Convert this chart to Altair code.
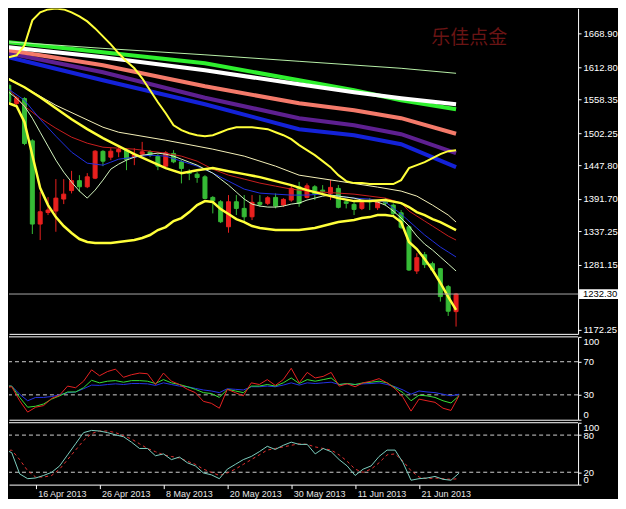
import altair as alt
import pandas as pd

# ---------------- data ----------------
bar_index = list(range(58))  # trading days 10 Apr 2013 ... 28 Jun 2013
opens = [1582.3, 1551.7, 1560.0, 1489.1, 1349.6, 1368.9, 1371.4, 1391.5, 1405.7, 1422.4,
         1412.1, 1426.6, 1471.5, 1461.8, 1470.7, 1473.5, 1462.3, 1466.8, 1470.7, 1463.0,
         1446.7, 1468.0, 1453.9, 1437.2, 1433.3, 1428.8, 1394.3, 1387.0, 1345.1, 1387.0,
         1375.9, 1361.8, 1386.0, 1384.3, 1394.3, 1381.4, 1389.8, 1412.1, 1394.3, 1412.1,
         1406.5, 1401.0, 1409.4, 1387.0, 1382.6, 1375.9, 1389.0, 1376.9, 1387.0, 1381.4,
         1368.5, 1345.1, 1270.9, 1298.2, 1283.2, 1274.8, 1244.7, 1202.8]
highs = [1585.7, 1563.9, 1562.2, 1491.9, 1403.7, 1394.8, 1425.0, 1425.0, 1438.8, 1431.6,
         1435.0, 1473.5, 1473.5, 1476.8, 1480.2, 1476.8, 1476.8, 1487.4, 1473.5, 1466.8,
         1471.8, 1473.5, 1456.8, 1441.7, 1436.7, 1431.6, 1396.5, 1389.8, 1398.2, 1398.2,
         1398.2, 1398.2, 1398.2, 1396.5, 1401.0, 1393.1, 1414.9, 1420.4, 1417.8, 1414.9,
         1414.9, 1423.3, 1414.9, 1389.8, 1387.0, 1389.8, 1393.1, 1389.8, 1393.1, 1384.3,
         1373.1, 1347.9, 1300.6, 1302.8, 1286.5, 1276.0, 1247.5, 1234.1]
lows = [1552.2, 1548.8, 1481.9, 1332.9, 1322.8, 1364.7, 1336.7, 1383.1, 1401.0, 1403.2,
        1409.9, 1425.0, 1446.7, 1456.8, 1461.8, 1440.0, 1448.4, 1463.5, 1461.8, 1440.0,
        1445.0, 1451.7, 1417.8, 1423.3, 1418.8, 1391.5, 1367.5, 1351.3, 1335.1, 1364.7,
        1351.3, 1356.3, 1378.6, 1381.4, 1375.9, 1378.1, 1387.0, 1378.6, 1392.6, 1389.8,
        1398.2, 1389.8, 1375.9, 1375.9, 1364.7, 1373.1, 1373.1, 1373.1, 1379.8, 1361.8,
        1341.3, 1270.9, 1265.9, 1276.0, 1269.3, 1219.6, 1195.6, 1177.7]
closes = [1554.4, 1561.1, 1484.7, 1349.6, 1370.2, 1373.1, 1393.1, 1399.8, 1422.4, 1412.1,
          1428.8, 1471.8, 1455.1, 1471.8, 1474.7, 1457.9, 1466.3, 1470.7, 1465.1, 1446.7,
          1469.0, 1453.9, 1442.9, 1434.5, 1427.8, 1392.6, 1388.6, 1353.5, 1387.0, 1375.9,
          1361.8, 1386.0, 1382.6, 1393.7, 1379.8, 1391.0, 1409.4, 1384.3, 1413.7, 1399.8,
          1404.0, 1411.1, 1377.6, 1384.3, 1374.2, 1385.6, 1387.0, 1387.0, 1384.3, 1367.5,
          1344.1, 1272.6, 1293.2, 1281.5, 1272.6, 1228.0, 1203.5, 1232.3]

# Bollinger bands
bb_upper = [1629.2, 1632.5, 1649.3, 1691.1, 1704.5, 1709.5, 1711.2, 1709.5, 1704.5, 1697.8,
            1689.4, 1677.7, 1664.3, 1650.9, 1635.9, 1622.5, 1610.8, 1594.0, 1573.9, 1553.9,
            1535.4, 1515.3, 1507.0, 1502.0, 1498.6, 1496.9, 1498.6, 1503.6, 1508.7, 1512.0,
            1512.0, 1512.0, 1510.3, 1508.7, 1503.6, 1498.6, 1491.9, 1481.9, 1473.5, 1465.1,
            1455.1, 1445.0, 1431.6, 1421.6, 1418.3, 1418.3, 1416.6, 1416.6, 1416.6, 1416.6,
            1423.3, 1443.4, 1448.4, 1453.4, 1460.1, 1466.8, 1471.8, 1473.5]
bb_lower = [1552.2, 1547.2, 1520.4, 1465.1, 1409.9, 1381.4, 1361.3, 1346.3, 1334.6, 1324.5,
            1319.5, 1317.8, 1317.8, 1317.8, 1319.5, 1321.2, 1322.8, 1326.2, 1331.2, 1339.6,
            1344.6, 1354.6, 1359.7, 1369.7, 1381.4, 1388.1, 1386.5, 1374.7, 1366.4, 1358.0,
            1353.0, 1346.3, 1342.9, 1341.3, 1339.6, 1339.6, 1339.6, 1339.6, 1341.3, 1342.9,
            1346.3, 1349.6, 1353.0, 1354.6, 1356.3, 1359.7, 1361.3, 1364.7, 1364.7, 1363.0,
            1353.0, 1319.5, 1307.8, 1291.0, 1272.6, 1250.9, 1227.4, 1205.7]
bb_mid_k = [0, 2, 4, 6, 8, 10, 12, 14, 16, 18, 20, 22, 24, 26, 28, 30, 32, 34, 36, 38, 40,
            42, 44, 46, 48, 50, 51, 52, 53, 54, 55, 56, 57]
bb_mid = [1592.4, 1579.0, 1562.2, 1543.8, 1525.4, 1508.7, 1493.6, 1480.2, 1466.8, 1455.1,
          1443.4, 1435.0, 1440.0, 1443.4, 1438.3, 1433.3, 1428.3, 1421.6, 1414.9, 1406.5,
          1399.8, 1393.1, 1388.1, 1388.1, 1389.8, 1384.8, 1378.1, 1369.7, 1364.7, 1358.0,
          1353.0, 1346.3, 1339.6]

# short moving averages (thin lines)
ma_red_k = bb_mid_k
ma_red = [1575.6, 1547.2, 1527.1, 1510.3, 1495.3, 1485.2, 1478.5, 1476.8, 1475.2, 1471.8,
          1468.5, 1463.5, 1455.1, 1441.7, 1431.6, 1425.0, 1418.3, 1413.2, 1408.2, 1404.9,
          1403.2, 1401.5, 1399.8, 1396.5, 1393.1, 1384.8, 1371.4, 1363.0, 1354.6, 1346.3,
          1337.9, 1329.5, 1322.8]
ma_blue_k = [0, 2, 4, 6, 8, 10, 12, 13, 14, 16, 18, 20, 22, 24, 26, 28, 30, 32, 34, 36, 38,
             40, 42, 44, 46, 48, 49, 50, 51, 52, 53, 54, 55, 56, 57]
ma_blue = [1575.6, 1557.2, 1525.4, 1496.9, 1470.2, 1451.7, 1448.4, 1453.4, 1458.4, 1461.8,
           1465.1, 1463.5, 1455.1, 1446.7, 1435.0, 1421.6, 1408.2, 1401.5, 1399.8, 1398.2,
           1398.2, 1399.8, 1396.5, 1393.1, 1391.5, 1386.5, 1376.4, 1366.4, 1354.6, 1342.9,
           1331.2, 1321.2, 1311.1, 1302.8, 1294.4]
ma_pale = [1570.6, 1560.5, 1547.2, 1527.1, 1503.6, 1480.2, 1456.8, 1436.7, 1419.9, 1404.9,
           1393.1, 1406.5, 1423.3, 1441.7, 1450.1, 1456.8, 1461.8, 1465.1, 1466.8, 1468.5,
           1466.8, 1463.5, 1458.4, 1453.4, 1448.4, 1441.7, 1435.0, 1425.0, 1414.9, 1403.2,
           1391.5, 1383.1, 1379.8, 1378.1, 1378.1, 1379.8, 1383.1, 1384.8, 1389.8, 1393.1,
           1396.5, 1398.2, 1396.5, 1394.8, 1393.1, 1389.8, 1388.1, 1386.5, 1381.4, 1371.4,
           1359.7, 1346.3, 1329.5, 1316.1, 1306.1, 1294.4, 1282.7, 1270.9]
ma_cream_k = [0, 6, 12, 14, 20, 26, 30, 34, 37, 42, 47, 50, 52, 54, 56, 57]
ma_cream = [1594.0, 1548.8, 1512.0, 1503.6, 1490.2, 1475.2, 1463.5, 1446.7, 1431.6, 1421.6,
            1411.6, 1404.9, 1396.5, 1381.4, 1364.7, 1353.0]

# long moving averages (thick lines)
long_k = [0, 12, 25, 37, 44, 50, 57]
ma_green = [1654.3, 1637.6, 1619.1, 1590.7, 1573.9, 1557.2, 1542.1]
ma_white = [1645.9, 1629.2, 1607.4, 1584.0, 1570.6, 1560.5, 1550.5]
ma_salmon = [1640.9, 1615.8, 1580.6, 1552.2, 1540.5, 1527.1, 1501.1]
ma_purple = [1635.9, 1604.1, 1561.4, 1527.1, 1515.3, 1500.3, 1468.5]
ma_navy = [1629.2, 1590.7, 1550.5, 1508.7, 1498.6, 1483.5, 1445.0]
top_k = [0, 12, 25, 37, 50, 57]
ma_top = [1655.1, 1644.2, 1633.4, 1622.5, 1610.8, 1602.4]

# RSI (three periods)
rsi_fast = [38.6, 39.8, 22.9, 9.2, 15.1, 17.1, 25.7, 29.6, 40.6, 38.6,
            46.5, 60.2, 53.1, 58.2, 61.0, 51.2, 54.3, 56.3, 55.5, 42.5,
            56.3, 46.5, 42.5, 36.7, 32.7, 22.2, 19.8, 13.9, 36.7, 32.7,
            28.8, 44.5, 42.5, 48.4, 41.4, 48.4, 62.1, 44.5, 57.1, 50.4,
            52.3, 57.1, 40.6, 43.3, 39.8, 44.5, 46.5, 49.6, 44.5, 37.4,
            26.9, 10.4, 24.9, 22.9, 21.0, 13.9, 11.2, 28.8]
rsi_mid = [40.6, 40.6, 26.9, 15.1, 16.3, 19.0, 24.9, 28.8, 33.5, 33.5,
           38.6, 47.6, 44.5, 46.5, 47.2, 45.3, 47.2, 47.2, 46.5, 43.7,
           48.4, 44.5, 42.5, 39.8, 36.7, 32.7, 31.6, 26.9, 36.7, 34.7,
           32.7, 40.6, 40.6, 42.5, 40.6, 44.5, 50.4, 43.7, 48.4, 46.5,
           48.4, 50.4, 42.5, 43.7, 42.5, 44.5, 45.3, 46.5, 44.5, 38.6,
           32.7, 22.9, 29.6, 28.8, 26.9, 22.9, 20.2, 28.8]
rsi_slow = [40.6, 40.6, 30.8, 22.9, 26.9, 26.9, 28.0, 30.0, 32.7, 33.5,
            37.4, 41.8, 41.4, 42.5, 43.3, 42.5, 43.7, 43.7, 43.3, 41.4,
            44.5, 42.5, 40.6, 39.8, 37.8, 35.9, 34.7, 32.7, 37.4, 36.7,
            35.9, 39.8, 39.8, 40.6, 39.8, 41.8, 44.5, 41.8, 44.5, 43.7,
            44.5, 45.3, 42.5, 43.3, 42.5, 43.3, 43.7, 44.5, 42.5, 39.8,
            35.9, 30.8, 34.7, 33.5, 32.7, 30.8, 28.8, 30.8]
rsi_levels = [30, 70]

# Stochastic
stoch_k = [57.3, 51.7, 17.3, 9.6, 10.7, 14.8, 19.9, 30.2, 48.1, 66.0,
           84.0, 87.6, 86.6, 84.0, 80.4, 77.3, 68.6, 58.4, 58.4, 46.6,
           49.6, 40.4, 44.5, 35.3, 30.2, 18.9, 15.8, 9.6, 25.0, 32.7,
           40.4, 45.5, 53.2, 61.9, 56.8, 63.5, 68.6, 65.0, 65.0, 49.6,
           58.4, 53.2, 40.4, 30.2, 14.8, 25.0, 30.2, 45.5, 55.8, 55.8,
           35.3, 7.1, 9.6, 10.7, 13.2, 8.6, 7.1, 18.4]
stoch_d = [54.3, 55.8, 40.4, 22.5, 12.2, 12.2, 14.8, 25.0, 40.4, 55.8,
           71.2, 82.5, 86.6, 86.6, 84.0, 78.9, 73.7, 66.0, 58.4, 53.2,
           48.1, 45.5, 43.0, 37.8, 32.7, 25.0, 19.9, 14.8, 18.9, 25.0,
           32.7, 40.4, 48.1, 55.8, 58.4, 60.9, 63.5, 66.0, 65.0, 60.9,
           58.4, 55.8, 48.1, 37.8, 25.0, 19.9, 25.0, 35.3, 48.1, 49.6,
           37.8, 22.5, 12.2, 9.6, 10.7, 9.6, 8.6, 9.6]
stoch_levels = [20, 80]

# axes text
date_tick_bars = [4, 12, 20, 28, 36, 44, 52]
date_tick_text = ["16 Apr 2013", "26 Apr 2013", "8 May 2013", "20 May 2013",
                  "30 May 2013", "11 Jun 2013", "21 Jun 2013"]
price_ticks = [1172.25, 1281.15, 1337.25, 1391.70, 1447.80, 1502.25, 1558.35, 1612.80, 1668.90]
last_price = [1232.30]
watermark = ["乐佳点金"]

# ---------------- chart ----------------
FONT = "Liberation Sans"
W = 570
XS = alt.Scale(domain=[0.6625, 0.6625 + W / 8.0], nice=False, zero=False)
YS_MAIN = alt.Scale(domain=[1165.5, 1711.2], nice=False, zero=False)
YS_IND = alt.Scale(domain=[0, 100], nice=False, zero=False)

border_x_axis = alt.Axis(labels=False, ticks=False, domain=True, domainColor="white",
                         domainWidth=1, grid=False, title=None)


def right_axis(values, flush):
    return alt.Axis(orient="right", values=values, grid=False, title=None,
                    domainColor="white", tickColor="white", tickSize=3, labelPadding=2,
                    labelColor="white", labelFont=FONT, labelFontSize=9.5,
                    labelFlush=flush, labelOverlap=False,
                    format=".2f" if not flush else "d")


main_axis = right_axis(price_ticks, False)


def sdf(ks, vs):
    return pd.DataFrame({"k": ks, "v": vs})


def line(ks, vs, color, width, dash=None, xaxis=None, yscale=YS_MAIN, yaxis=None):
    kw = dict(color=color, strokeWidth=width, clip=True)
    if dash:
        kw["strokeDash"] = dash
    return alt.Chart(sdf(ks, vs)).mark_line(**kw).encode(
        x=alt.X("k:Q", scale=XS, axis=xaxis, title=None),
        y=alt.Y("v:Q", scale=yscale, axis=yaxis, title=None),
    )


bars = pd.DataFrame({"k": bar_index, "open": opens, "high": highs,
                     "low": lows, "close": closes})
bars["dir"] = ["up" if c >= o else "down" for o, c in zip(opens, closes)]
RED, GREEN = "#e8201e", "#36bb36"
cscale = alt.Scale(domain=["up", "down"], range=[RED, GREEN])

xm = alt.X("k:Q", scale=XS, axis=border_x_axis, title=None)
wicks = alt.Chart(bars).mark_rule(strokeWidth=1, clip=True).encode(
    x=xm,
    y=alt.Y("low:Q", scale=YS_MAIN, axis=main_axis, title=None),
    y2="high:Q",
    color=alt.Color("dir:N", scale=cscale, legend=None),
)
bodies = alt.Chart(bars).mark_bar(size=4, strokeWidth=1, clip=True).encode(
    x=xm,
    y=alt.Y("open:Q", scale=YS_MAIN, axis=main_axis, title=None),
    y2="close:Q",
    color=alt.Color("dir:N", scale=cscale, legend=None),
    stroke=alt.Stroke("dir:N", scale=cscale, legend=None),
)


def mline(ks, vs, color, width):
    return line(ks, vs, color, width, xaxis=border_x_axis, yaxis=main_axis)


BOX_W = 610 - W - 1
price_df = pd.DataFrame({"v": last_price, "t": ["%.2f" % p for p in last_price]})
price_rule = alt.Chart(price_df).mark_rule(color="#a8a8a8", strokeWidth=1).encode(
    y=alt.Y("v:Q", scale=YS_MAIN, axis=main_axis, title=None))
price_box = alt.Chart(price_df).mark_point(
    shape="M-1,-0.25H1V0.25H-1Z", size=BOX_W * BOX_W, filled=True, color="white",
    opacity=1, strokeWidth=0).encode(
    x=alt.value(W + 1 + BOX_W / 2.0),
    y=alt.Y("v:Q", scale=YS_MAIN, axis=main_axis, title=None))
price_text = alt.Chart(price_df).mark_text(
    align="left", baseline="middle", font=FONT, fontSize=9.5, color="black").encode(
    x=alt.value(W + 5), y=alt.Y("v:Q", scale=YS_MAIN, axis=main_axis, title=None),
    text="t:N")

wm = alt.Chart(pd.DataFrame({"t": watermark})).mark_text(
    font="Noto Sans CJK SC", fontSize=19, color="#6a1414", align="center",
    baseline="middle").encode(x=alt.value(461), y=alt.value(30), text="t:N")

main = alt.layer(
    wm,
    wicks, bodies,
    mline(long_k, ma_navy, "#1422d8", 4),
    mline(long_k, ma_purple, "#5e2090", 4),
    mline(long_k, ma_salmon, "#f47a6a", 4),
    mline(long_k, ma_green, "#2ef02e", 4),
    mline(long_k, ma_white, "#ffffff", 4),
    mline(top_k, ma_top, "#b8f0a8", 1),
    mline(ma_cream_k, ma_cream, "#f4f0b8", 1),
    mline(ma_red_k, ma_red, "#c81e1e", 1),
    mline(ma_blue_k, ma_blue, "#2030e0", 1),
    mline(bar_index, ma_pale, "#d4f4c0", 1),
    mline(bar_index, bb_upper, "#ffff3a", 2),
    mline(bb_mid_k, bb_mid, "#ffff3a", 2.5),
    mline(bar_index, bb_lower, "#ffff3a", 2.5),
    price_rule, price_box, price_text,
).properties(width=W, height=326)

# ---- RSI panel ----
rsi_axis = right_axis([0, 30, 70, 100], True)


def iline(ks, vs, color, width, dash=None, xaxis=border_x_axis, yaxis=rsi_axis):
    return line(ks, vs, color, width, dash=dash, xaxis=xaxis, yscale=YS_IND, yaxis=yaxis)


rsi_lv = alt.Chart(pd.DataFrame({"v": rsi_levels})).mark_rule(
    color="#d0d0d0", strokeWidth=1, strokeDash=[4, 3]).encode(
    y=alt.Y("v:Q", scale=YS_IND, axis=rsi_axis, title=None))
rsi_top = alt.Chart(pd.DataFrame({"v": [100]})).mark_rule(color="white", strokeWidth=1).encode(
    y=alt.Y("v:Q", scale=YS_IND, axis=rsi_axis, title=None))
rsi = alt.layer(
    rsi_lv, rsi_top,
    iline(bar_index, rsi_slow, "#2433e6", 1),
    iline(bar_index, rsi_mid, "#35e035", 1),
    iline(bar_index, rsi_fast, "#e62222", 1),
).properties(width=W, height=83)

# ---- Stochastic panel ----
label_expr = "''"
for kk, lab in reversed(list(zip(date_tick_bars, date_tick_text))):
    label_expr = f"datum.value == {kk} ? '{lab}' : {label_expr}"
date_axis = alt.Axis(values=date_tick_bars, labelExpr=label_expr, grid=False, title=None,
                     domainColor="white", tickColor="white", tickSize=4,
                     labelAlign="left", labelBaseline="top", labelPadding=1, labelOffset=2,
                     labelColor="#e6e6e6", labelFont=FONT, labelFontSize=9,
                     labelOverlap=False, labelFlush=False, labelBound=False)
st_axis = right_axis([0, 20, 80, 100], True)

st_lv = alt.Chart(pd.DataFrame({"v": stoch_levels})).mark_rule(
    color="#d0d0d0", strokeWidth=1, strokeDash=[4, 3]).encode(
    y=alt.Y("v:Q", scale=YS_IND, axis=st_axis, title=None))
st_top = alt.Chart(pd.DataFrame({"v": [100]})).mark_rule(color="white", strokeWidth=1).encode(
    y=alt.Y("v:Q", scale=YS_IND, axis=st_axis, title=None))
stoch = alt.layer(
    st_lv, st_top,
    iline(bar_index, stoch_d, "#e23030", 1, dash=[3, 3], xaxis=date_axis, yaxis=st_axis),
    iline(bar_index, stoch_k, "#7ccfc0", 1, xaxis=date_axis, yaxis=st_axis),
).properties(width=W, height=62)

chart = alt.VConcatChart(vconcat=[main, rsi, stoch], spacing=3, bounds="flush").properties(
    background="black", padding=0
).configure_view(stroke=None)

chart.save("out.html", embed_options={"renderer": "svg", "actions": False})
